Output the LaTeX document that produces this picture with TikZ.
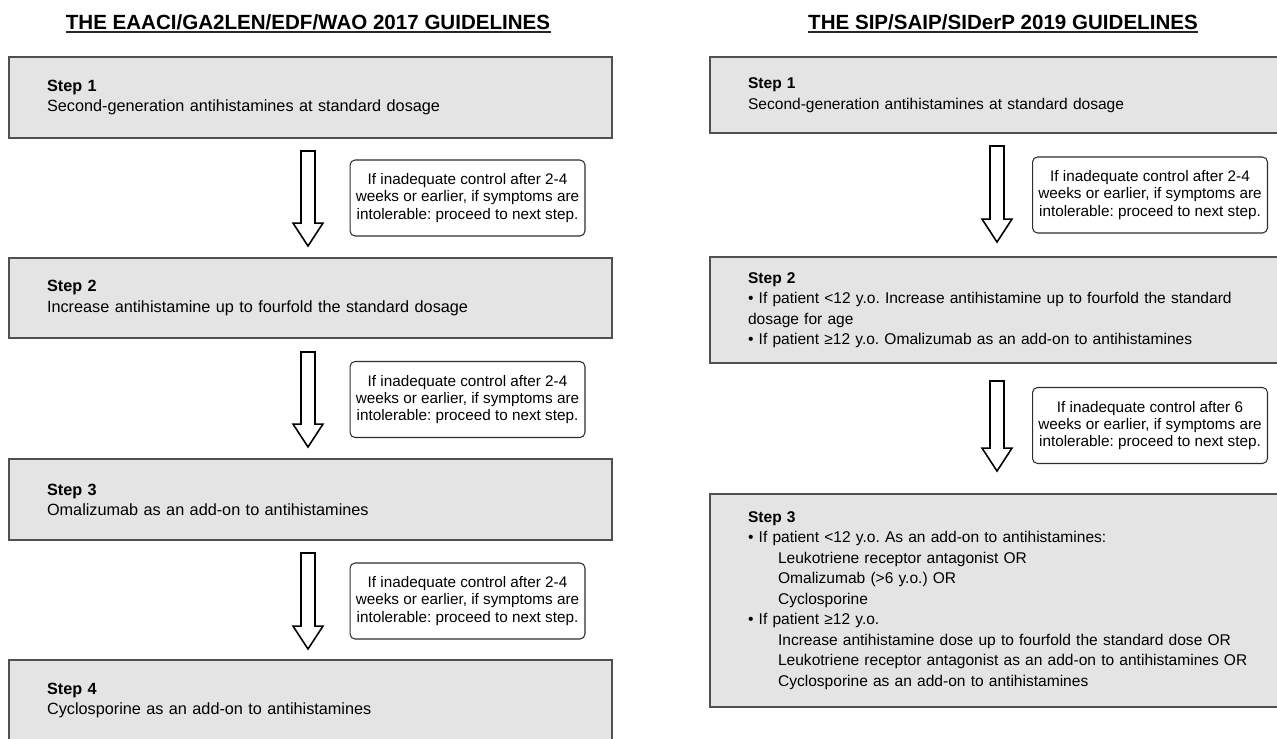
\documentclass[tikz,border=0pt]{standalone}
\usepackage{fontspec}
\setmainfont{Liberation Sans}
\usetikzlibrary{calc}
\definecolor{boxgray}{RGB}{228,228,228}
\definecolor{boxline}{RGB}{80,80,80}
\definecolor{noteline}{RGB}{45,45,45}
\newcommand{\hollowdown}[2]{%
 \draw[hollowarrow] ($(#1)+(-7,0)$) -- ($(#1)+(7,0)$) -- ($(#2)+(7,-23)$) -- ($(#2)+(15,-23)$) -- (#2) -- ($(#2)+(-15,-23)$) -- ($(#2)+(-7,-23)$) -- cycle;}
\newcommand{\ind}{\hspace*{0.6cm}}
\frenchspacing

\begin{document}
\begin{tikzpicture}[x=0.02cm, y=-0.02cm,
 stepbox/.style={draw=boxline, line width=1.1pt, fill=boxgray, align=left, inner xsep=0.76cm, inner ysep=0pt, font=\fontsize{9.25}{11.5}\selectfont},
 rstepbox/.style={stepbox, font=\fontsize{8.85}{11.67}\selectfont},
 notebox/.style={draw=noteline, line width=0.6pt, rounded corners=0.1cm, fill=white, align=center, inner sep=0pt, minimum width=4.7cm, minimum height=1.52cm, font=\fontsize{8.7}{9.85}\selectfont},
 hollowarrow/.style={draw=black, line width=0.9pt, fill=white},
 heading/.style={font=\fontsize{11.7}{14}\selectfont\bfseries, inner sep=0pt, anchor=base},
 headline/.style={line width=0.85pt, draw=black!85}]
 \useasboundingbox (0,0) rectangle (1277,738);

 \node[heading] (hl) at (308,29.5) {THE EAACI/GA2LEN/EDF/WAO 2017 GUIDELINES};
 \draw[headline] ($(hl.base west)+(0,2.5)$) -- ($(hl.base east)+(0,2.5)$);
 \node[heading] (hr) at (1003,29.5) {THE SIP/SAIP/SIDerP 2019 GUIDELINES};
 \draw[headline] ($(hr.base west)+(0,2.5)$) -- ($(hr.base east)+(0,2.5)$);

 \node[stepbox, text width=10.54cm, minimum height=1.62cm] (l1) at (310.5,97.5) {\textbf{Step 1}\\Second-generation antihistamines at standard dosage};
 \node[stepbox, text width=10.54cm, minimum height=1.6cm] (l2) at (310.5,298) {\textbf{Step 2}\\Increase antihistamine up to fourfold the standard dosage};
 \node[stepbox, text width=10.54cm, minimum height=1.62cm] (l3) at (310.5,499.5) {\textbf{Step 3}\\Omalizumab as an add-on to antihistamines};
 \node[stepbox, text width=10.54cm, minimum height=1.62cm] (l4) at (310.5,700.5) {\textbf{Step 4}\\Cyclosporine as an add-on to antihistamines};

 \coordinate (la1s) at ([xshift=-0.05cm, yshift=-0.24cm]l1.south);
 \coordinate (la1e) at ([xshift=-0.05cm, yshift=0.22cm]l2.north);
 \coordinate (la2s) at ([xshift=-0.05cm, yshift=-0.26cm]l2.south);
 \coordinate (la2e) at ([xshift=-0.05cm, yshift=0.22cm]l3.north);
 \coordinate (la3s) at ([xshift=-0.05cm, yshift=-0.24cm]l3.south);
 \coordinate (la3e) at ([xshift=-0.05cm, yshift=0.2cm]l4.north);
 \hollowdown{la1s}{la1e}
 \hollowdown{la2s}{la2e}
 \hollowdown{la3s}{la3e}

 \node[notebox] (ln1) at (467.5,198) {If inadequate control after 2-4\\weeks or earlier, if symptoms are\\intolerable: proceed to next step.};
 \node[notebox] (ln2) at (467.5,399.5) {If inadequate control after 2-4\\weeks or earlier, if symptoms are\\intolerable: proceed to next step.};
 \node[notebox] (ln3) at (467.5,601) {If inadequate control after 2-4\\weeks or earlier, if symptoms are\\intolerable: proceed to next step.};

 \node[rstepbox, text width=11.5cm, minimum height=1.52cm] (r1) at (1035.5,95) {\textbf{Step 1}\\Second-generation antihistamines at standard dosage};
 \node[rstepbox, text width=11.5cm, minimum height=2.12cm] (r2) at (1035.5,310) {\textbf{Step 2}\\• If patient <12 y.o. Increase antihistamine up to fourfold the standard\\dosage for age\\• If patient ≥12 y.o. Omalizumab as an add-on to antihistamines};
 \node[rstepbox, text width=11.5cm, minimum height=4.26cm] (r3) at (1035.5,600.5) {\textbf{Step 3}\\• If patient <12 y.o. As an add-on to antihistamines:\\\ind Leukotriene receptor antagonist OR\\\ind Omalizumab (>6 y.o.) OR\\\ind Cyclosporine\\• If patient ≥12 y.o.\\\ind Increase antihistamine dose up to fourfold the standard dose OR\\\ind Leukotriene receptor antagonist as an add-on to antihistamines OR\\\ind Cyclosporine as an add-on to antihistamines};

 \coordinate (ra1s) at ([xshift=-0.77cm, yshift=-0.24cm]r1.south);
 \coordinate (ra1e) at ([xshift=-0.77cm, yshift=0.28cm]r2.north);
 \coordinate (ra2s) at ([xshift=-0.77cm, yshift=-0.34cm]r2.south);
 \coordinate (ra2e) at ([xshift=-0.77cm, yshift=0.44cm]r3.north);
 \hollowdown{ra1s}{ra1e}
 \hollowdown{ra2s}{ra2e}

 \node[notebox] (rn1) at (1150,195) {If inadequate control after 2-4\\weeks or earlier, if symptoms are\\intolerable: proceed to next step.};
 \node[notebox] (rn2) at (1150,425.5) {If inadequate control after 6\\weeks or earlier, if symptoms are\\intolerable: proceed to next step.};
\end{tikzpicture}
\end{document}
